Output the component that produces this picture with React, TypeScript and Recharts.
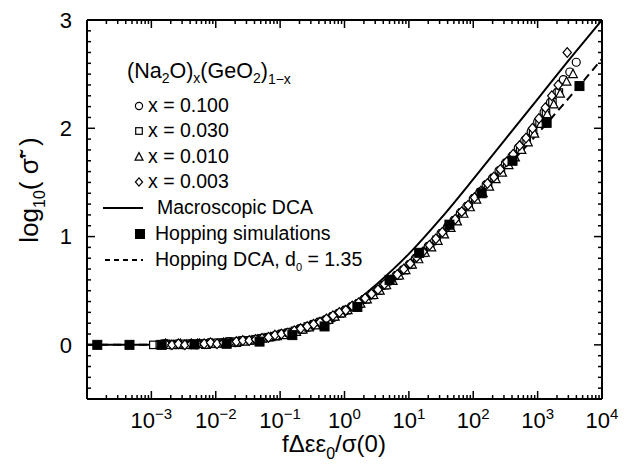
import React from 'react';
import { ComposedChart, Line, Scatter, XAxis, YAxis, Legend } from 'recharts';

const FONT = '"Liberation Sans", Arial, Helvetica, sans-serif';

// x values are log10( fΔεε0/σ(0) ), y values are log10( σ̃' )
const x100LogX = [-2.9, -2.8, -2.7, -2.6, -2.5, -2.4, -2.3, -2.2, -2.1, -2.0, -1.9, -1.8, -1.7, -1.6, -1.5, -1.4, -1.3, -1.2, -1.1, -1.0, -0.9, -0.8, -0.7, -0.6, -0.5, -0.4, -0.3, -0.2, -0.1, 0.0, 0.1, 0.2, 0.3, 0.4, 0.5, 0.6, 0.7, 0.8, 0.9, 1.0, 1.1, 1.2, 1.3, 1.4, 1.5, 1.6, 1.7, 1.8, 1.9, 2.0, 2.1, 2.2, 2.3, 2.4, 2.5, 2.6, 2.7, 2.8, 2.9, 3.0, 3.1, 3.2, 3.3, 3.4, 3.5, 3.6];
const x100Y = [0.0, 0.01, 0.0, 0.01, 0.0, 0.01, 0.0, 0.01, 0.02, 0.01, 0.02, 0.03, 0.02, 0.04, 0.04, 0.05, 0.06, 0.07, 0.08, 0.1, 0.11, 0.12, 0.15, 0.16, 0.19, 0.21, 0.23, 0.26, 0.29, 0.32, 0.35, 0.38, 0.42, 0.46, 0.5, 0.55, 0.59, 0.64, 0.69, 0.74, 0.8, 0.85, 0.91, 0.96, 1.03, 1.09, 1.15, 1.22, 1.28, 1.35, 1.41, 1.48, 1.54, 1.61, 1.68, 1.74, 1.82, 1.89, 1.97, 2.06, 2.15, 2.24, 2.33, 2.45, 2.52, 2.61];

const x030LogX = [-2.97, -2.87, -2.77, -2.67, -2.57, -2.47, -2.37, -2.27, -2.17, -2.07, -1.97, -1.87, -1.77, -1.67, -1.57, -1.47, -1.37, -1.27, -1.17, -1.07, -0.97, -0.87, -0.77, -0.67, -0.57, -0.47, -0.37, -0.27, -0.17, -0.07, 0.03, 0.13, 0.23, 0.33, 0.43, 0.53, 0.63, 0.73, 0.83, 0.93, 1.03, 1.13, 1.23, 1.33, 1.43, 1.53, 1.63, 1.73, 1.83, 1.93, 2.03, 2.13, 2.23, 2.33, 2.43, 2.53, 2.63, 2.73, 2.83, 2.93, 3.03, 3.13, 3.23, 3.33];
const x030Y = [0.0, 0.0, 0.01, 0.0, 0.0, 0.01, 0.0, 0.01, 0.01, 0.01, 0.02, 0.01, 0.03, 0.02, 0.04, 0.04, 0.05, 0.06, 0.07, 0.08, 0.1, 0.11, 0.13, 0.14, 0.17, 0.19, 0.21, 0.23, 0.26, 0.29, 0.32, 0.35, 0.38, 0.42, 0.46, 0.5, 0.55, 0.6, 0.64, 0.69, 0.74, 0.8, 0.85, 0.91, 0.97, 1.03, 1.09, 1.15, 1.22, 1.28, 1.35, 1.41, 1.47, 1.54, 1.6, 1.67, 1.74, 1.81, 1.88, 1.96, 2.05, 2.14, 2.24, 2.33];

const x010LogX = [-2.85, -2.75, -2.65, -2.55, -2.45, -2.35, -2.25, -2.15, -2.05, -1.95, -1.85, -1.75, -1.65, -1.55, -1.45, -1.35, -1.25, -1.15, -1.05, -0.95, -0.85, -0.75, -0.65, -0.55, -0.45, -0.35, -0.25, -0.15, -0.05, 0.05, 0.15, 0.25, 0.35, 0.45, 0.55, 0.65, 0.75, 0.85, 0.95, 1.05, 1.15, 1.25, 1.35, 1.45, 1.55, 1.65, 1.75, 1.85, 1.95, 2.05, 2.15, 2.25, 2.35, 2.45, 2.55, 2.65, 2.75, 2.85, 2.95, 3.05, 3.15, 3.25, 3.35, 3.45, 3.55];
const x010Y = [0.0, 0.0, 0.0, 0.01, 0.0, 0.0, 0.01, 0.0, 0.01, 0.01, 0.02, 0.02, 0.03, 0.03, 0.04, 0.05, 0.06, 0.07, 0.08, 0.09, 0.11, 0.12, 0.14, 0.16, 0.18, 0.21, 0.23, 0.26, 0.29, 0.32, 0.35, 0.38, 0.42, 0.46, 0.5, 0.55, 0.59, 0.64, 0.69, 0.74, 0.79, 0.85, 0.9, 0.96, 1.02, 1.08, 1.14, 1.21, 1.27, 1.34, 1.4, 1.46, 1.53, 1.59, 1.66, 1.73, 1.8, 1.87, 1.95, 2.04, 2.13, 2.22, 2.32, 2.43, 2.5];

const x003LogX = [-2.78, -2.68, -2.58, -2.48, -2.38, -2.28, -2.18, -2.08, -1.98, -1.88, -1.78, -1.68, -1.58, -1.48, -1.38, -1.28, -1.18, -1.08, -0.98, -0.88, -0.78, -0.68, -0.58, -0.48, -0.38, -0.28, -0.18, -0.08, 0.02, 0.12, 0.22, 0.32, 0.42, 0.52, 0.62, 0.72, 0.82, 0.92, 1.02, 1.12, 1.22, 1.32, 1.42, 1.52, 1.62, 1.72, 1.82, 1.92, 2.02, 2.12, 2.22, 2.32, 2.42, 2.52, 2.62, 2.72, 2.82, 2.92, 3.02, 3.12, 3.22, 3.32, 3.46];
const x003Y = [0.01, 0.0, 0.01, 0.0, 0.01, 0.01, 0.01, 0.02, 0.01, 0.02, 0.02, 0.03, 0.04, 0.04, 0.05, 0.06, 0.07, 0.09, 0.1, 0.11, 0.13, 0.15, 0.17, 0.19, 0.21, 0.24, 0.27, 0.3, 0.32, 0.36, 0.39, 0.43, 0.47, 0.51, 0.56, 0.6, 0.65, 0.7, 0.75, 0.81, 0.86, 0.92, 0.98, 1.04, 1.1, 1.16, 1.23, 1.29, 1.36, 1.42, 1.49, 1.55, 1.62, 1.69, 1.76, 1.84, 1.91, 2.0, 2.09, 2.19, 2.3, 2.4, 2.7];

const macroDcaLogX = [-4, -3, -2, -1.5, -1, -0.5, 0, 0.5, 1, 1.5, 2, 2.5, 3, 3.5, 4];
const macroDcaY = [0, 0, 0.005, 0.03, 0.09, 0.18, 0.32, 0.56, 0.84, 1.17, 1.53, 1.9, 2.27, 2.64, 3.0];

const hopDcaLogX = [-4, -3, -2, -1.5, -1, -0.5, 0, 0.5, 1, 1.5, 2, 2.5, 3, 3.5, 4];
const hopDcaY = [0, 0, 0.008, 0.03, 0.07, 0.14, 0.27, 0.5, 0.76, 1.04, 1.33, 1.63, 1.95, 2.29, 2.64];

const hopSimLogX = [-3.84, -3.34, -2.84, -2.33, -1.83, -1.32, -0.81, -0.31, 0.2, 0.7, 1.16, 1.63, 2.13, 2.61, 3.14, 3.65];
const hopSimY = [0, 0, 0, 0.005, 0.01, 0.03, 0.09, 0.17, 0.35, 0.6, 0.85, 1.11, 1.4, 1.7, 2.05, 2.39];

// axis ticks
const xMajorTicks = [-4, -3, -2, -1, 0, 1, 2, 3, 4];
const xLabelTicks = [-3, -2, -1, 0, 1, 2, 3, 4];
const xExponents = ['−3', '−2', '−1', '0', '1', '2', '3', '4'];
const minorMultipliers = [2, 3, 4, 5, 6, 7, 8, 9];
const yMajorTicks = [0, 1, 2, 3];
const yLabels = ['0', '1', '2', '3'];

const X_DOMAIN: [number, number] = [-4, 4];
const Y_DOMAIN: [number, number] = [-0.5, 3];

const toPoints = (xs: number[], ys: number[]) => xs.map((lx, i) => ({ lx, y: ys[i] }));

const xTicks: number[] = [...xMajorTicks];
xMajorTicks.slice(0, -1).forEach((n) => minorMultipliers.forEach((k) => xTicks.push(n + Math.log10(k))));
xTicks.sort((a, b) => a - b);

const yTicks: number[] = [];
for (let i = -5; i <= 30; i++) yTicks.push(i / 10);

const isMajor = (v: number) => Math.abs(v - Math.round(v)) < 1e-6;

const bottomTick = (p: any) => {
  const { x, y, payload } = p;
  const v = payload.value;
  const major = isMajor(v);
  const idx = xLabelTicks.indexOf(Math.round(v));
  return (
    <g>
      <line x1={x} y1={y} x2={x} y2={y - (major ? 8 : 4)} stroke="#000" strokeWidth={1.5} />
      {major && idx >= 0 && (
        <text x={x} y={y + 29} textAnchor="middle" fontSize={22} fontFamily={FONT} fill="#000">
          10<tspan dy={-9} fontSize={15}>{xExponents[idx]}</tspan>
        </text>
      )}
    </g>
  );
};

const topTick = (p: any) => {
  const { x, y, payload } = p;
  const major = isMajor(payload.value);
  return <line x1={x} y1={y} x2={x} y2={y + (major ? 8 : 4)} stroke="#000" strokeWidth={1.5} />;
};

const leftTick = (p: any) => {
  const { x, y, payload } = p;
  const v = payload.value;
  const major = isMajor(v);
  const idx = yMajorTicks.indexOf(Math.round(v));
  return (
    <g>
      <line x1={x} y1={y} x2={x + (major ? 8 : 4)} y2={y} stroke="#000" strokeWidth={1.5} />
      {major && idx >= 0 && (
        <text x={x - 15} y={y} dy="0.36em" textAnchor="end" fontSize={22} fontFamily={FONT} fill="#000">
          {yLabels[idx]}
        </text>
      )}
    </g>
  );
};

const rightTick = (p: any) => {
  const { x, y, payload } = p;
  const major = isMajor(payload.value);
  return <line x1={x} y1={y} x2={x - (major ? 8 : 4)} y2={y} stroke="#000" strokeWidth={1.5} />;
};

const circleShape = (r: number) => (p: any) => <circle cx={p.cx} cy={p.cy} r={r} fill="#fff" stroke="#000" strokeWidth={1.2} />;
const squareShape = (h: number) => (p: any) => (
  <rect x={p.cx - h} y={p.cy - h} width={2 * h} height={2 * h} fill="#fff" stroke="#000" strokeWidth={1.2} />
);
const triangleShape = (h: number) => (p: any) => (
  <polygon points={`${p.cx},${p.cy - h * 1.1} ${p.cx + h},${p.cy + h * 0.8} ${p.cx - h},${p.cy + h * 0.8}`} fill="#fff" stroke="#000" strokeWidth={1.2} />
);
const diamondShape = (h: number) => (p: any) => (
  <polygon points={`${p.cx},${p.cy - h * 1.15} ${p.cx + h},${p.cy} ${p.cx},${p.cy + h * 1.15} ${p.cx - h},${p.cy}`} fill="#fff" stroke="#000" strokeWidth={1.2} />
);
const filledSquare = (p: any) => <rect x={p.cx - 4.5} y={p.cy - 4.5} width={9} height={9} fill="#000" stroke="#000" />;

const openCircle = circleShape(4);
const openSquare = squareShape(3.7);
const openTriangle = triangleShape(4.3);
const openDiamond = diamondShape(4.2);

const legendRows = [
  { kind: 'circle', text: 'x = 0.100' },
  { kind: 'square', text: 'x = 0.030' },
  { kind: 'triangle', text: 'x = 0.010' },
  { kind: 'diamond', text: 'x = 0.003' },
];

const legendMarks: Record<string, (p: any) => React.ReactNode> = {
  circle: circleShape(3.6),
  square: squareShape(3.3),
  triangle: triangleShape(4),
  diamond: diamondShape(3.6),
};

const renderLegend = () => {
  const rowBase = [112, 137, 163, 188, 214, 240, 266];
  const fs = 19.5;
  return (
    <svg width={624} height={470} style={{ display: 'block' }}>
      <text x={127} y={78} fontSize={21.5} fontFamily={FONT} fill="#000">
        (Na<tspan dy={5} fontSize={14}>2</tspan>
        <tspan dy={-5}>O)</tspan>
        <tspan dy={5} fontSize={14}>x</tspan>
        <tspan dy={-5}>(GeO</tspan>
        <tspan dy={5} fontSize={14}>2</tspan>
        <tspan dy={-5}>)</tspan>
        <tspan dy={6} fontSize={14}>1−x</tspan>
      </text>
      {legendRows.map((r, i) => (
        <g key={r.text}>
          {legendMarks[r.kind]({ cx: 139, cy: rowBase[i] - 6 })}
          <text x={148} y={rowBase[i]} fontSize={fs} fontFamily={FONT} fill="#000">{r.text}</text>
        </g>
      ))}
      <line x1={103} y1={rowBase[4] - 6} x2={143} y2={rowBase[4] - 6} stroke="#000" strokeWidth={2} />
      <text x={157} y={rowBase[4]} fontSize={fs} fontFamily={FONT} fill="#000">Macroscopic DCA</text>
      {filledSquare({ cx: 140, cy: rowBase[5] - 6 })}
      <text x={155} y={rowBase[5]} fontSize={fs} fontFamily={FONT} fill="#000">Hopping simulations</text>
      <line x1={105} y1={rowBase[6] - 6} x2={143} y2={rowBase[6] - 6} stroke="#000" strokeWidth={2} strokeDasharray="5 4" />
      <text x={155} y={rowBase[6]} fontSize={fs} fontFamily={FONT} fill="#000">
        Hopping DCA, d<tspan dy={5} fontSize={11}>0</tspan>
        <tspan dy={-5}> = 1.35</tspan>
      </text>
    </svg>
  );
};

const xTitle = () => (
  <text x={334} y={452} textAnchor="middle" fontSize={24} fontFamily={FONT} fill="#000">
    fΔεε<tspan dy={7} fontSize={16}>0</tspan>
    <tspan dy={-7}>/σ(0)</tspan>
  </text>
);

const yTitle = () => (
  <text x={38} y={190} transform="rotate(-90, 38, 190)" textAnchor="middle" fontSize={26} fontFamily={FONT} fill="#000">
    log<tspan dy={7} fontSize={16}>10</tspan>
    <tspan dy={-7}>( σ̃' )</tspan>
  </text>
);

export default function App() {
  return (
    <div style={{ position: 'absolute', left: 0, top: 0, background: '#fff' }}>
      <ComposedChart width={624} height={470} margin={{ top: 19, right: 21, bottom: 21, left: 27 }}>
        <XAxis
          dataKey="lx"
          type="number"
          domain={X_DOMAIN}
          allowDataOverflow
          ticks={xTicks}
          interval={0}
          tickSize={0}
          tickMargin={0}
          height={50}
          axisLine={{ stroke: '#000', strokeWidth: 2 }}
          tickLine={false}
          tick={bottomTick}
          label={xTitle}
        />
        <XAxis
          xAxisId="top"
          orientation="top"
          dataKey="lx"
          type="number"
          domain={X_DOMAIN}
          allowDataOverflow
          ticks={xTicks}
          interval={0}
          tickSize={0}
          tickMargin={0}
          height={1}
          axisLine={{ stroke: '#000', strokeWidth: 2 }}
          tickLine={false}
          tick={topTick}
        />
        <YAxis
          dataKey="y"
          type="number"
          domain={Y_DOMAIN}
          allowDataOverflow
          ticks={yTicks}
          interval={0}
          tickSize={0}
          tickMargin={0}
          width={60}
          axisLine={{ stroke: '#000', strokeWidth: 2 }}
          tickLine={false}
          tick={leftTick}
          label={yTitle}
        />
        <YAxis
          yAxisId="right"
          orientation="right"
          dataKey="y"
          type="number"
          domain={Y_DOMAIN}
          allowDataOverflow
          ticks={yTicks}
          interval={0}
          tickSize={0}
          tickMargin={0}
          width={1}
          axisLine={{ stroke: '#000', strokeWidth: 2 }}
          tickLine={false}
          tick={rightTick}
        />
        <Line data={toPoints(macroDcaLogX, macroDcaY)} dataKey="y" type="monotone" stroke="#000" strokeWidth={2} dot={false} isAnimationActive={false} name="Macroscopic DCA" />
        <Line data={toPoints(hopDcaLogX, hopDcaY)} dataKey="y" type="monotone" stroke="#000" strokeWidth={2} strokeDasharray="8 5" dot={false} isAnimationActive={false} name="Hopping DCA" />
        <Scatter data={toPoints(x100LogX, x100Y)} shape={openCircle} isAnimationActive={false} name="x = 0.100" />
        <Scatter data={toPoints(x030LogX, x030Y)} shape={openSquare} isAnimationActive={false} name="x = 0.030" />
        <Scatter data={toPoints(x010LogX, x010Y)} shape={openTriangle} isAnimationActive={false} name="x = 0.010" />
        <Scatter data={toPoints(x003LogX, x003Y)} shape={openDiamond} isAnimationActive={false} name="x = 0.003" />
        <Scatter data={toPoints(hopSimLogX, hopSimY)} shape={filledSquare} isAnimationActive={false} name="Hopping simulations" />
        <Legend
          layout="vertical"
          align="center"
          verticalAlign="middle"
          content={renderLegend}
          wrapperStyle={{ position: 'absolute', left: 0, top: 0, width: 624, height: 470, pointerEvents: 'none' }}
        />
      </ComposedChart>
    </div>
  );
}
